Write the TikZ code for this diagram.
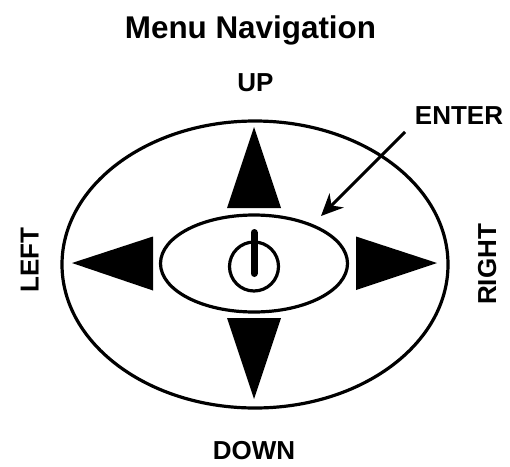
\documentclass[tikz,border=0pt]{standalone}
\usepackage{fontspec}
\setmainfont{Liberation Sans}
\usetikzlibrary{arrows.meta}
\tikzset{
 lbl/.style={font=\fontsize{26pt}{28pt}\selectfont\bfseries,inner sep=0pt},
 ring/.style={draw=black,line width=3.2pt,fill=none},
 tri/.style={fill=black,draw=none}
}
\begin{document}
\begin{tikzpicture}[x=1pt,y=-1pt]
\useasboundingbox (0,0) rectangle (510,466);
\node[font=\fontsize{31.4pt}{33pt}\selectfont\bfseries,inner sep=0pt,anchor=base] (title) at (250.5,38) {Menu Navigation};
\node[lbl,anchor=base] (up) at (255.5,91) {UP};
\node[lbl,anchor=base] (enter) at (459,124) {ENTER};
\node[lbl,rotate=90,anchor=base] (left) at (38.5,260) {LEFT};
\node[lbl,rotate=90,anchor=base] (right) at (496,264.5) {RIGHT};
\node[lbl,anchor=base] (down) at (254,459.5) {DOWN};
\draw[ring] (255,264.5) ellipse (193 and 143.5);
\draw[ring] (254,263.5) ellipse (93.5 and 48.5);
\draw[ring] (254,266.5) circle (24.5);
\draw[black,line width=7pt,line cap=round] (254,232.5) -- (254,273.5);
\fill[tri] (254,127) -- (281,208) -- (227,208) -- cycle;
\fill[tri] (254,399) -- (281,318) -- (227,318) -- cycle;
\fill[tri] (72,263) -- (153,236.5) -- (153,290.5) -- cycle;
\fill[tri] (437,263) -- (356,236.5) -- (356,290) -- cycle;
\coordinate (tail) at (405,132);
\coordinate (tip) at (321,216);
\draw[black,line width=3pt,-{Stealth[length=22pt,width=20pt]}] (tail) -- (tip);
\end{tikzpicture}
\end{document}
